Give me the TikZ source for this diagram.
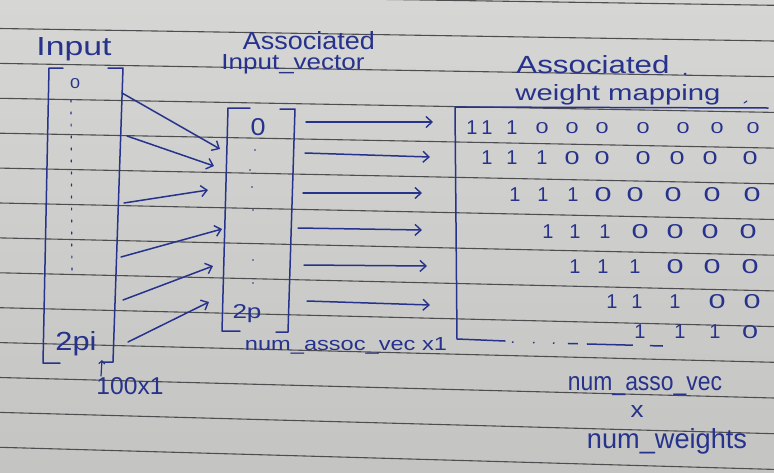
\documentclass[tikz,border=0pt]{standalone}
\usepackage{fontspec}
\setmainfont{Liberation Sans}
\usetikzlibrary{arrows.meta}
\definecolor{ink}{RGB}{38,50,140}
\definecolor{paper}{RGB}{196,197,195}
\definecolor{paperlight}{RGB}{214,214,212}
\definecolor{rulegray}{RGB}{78,78,80}
% text fitted to a given width and height
\newcommand\hw[3]{\resizebox{#1pt}{#2pt}{#3}}
\newcommand\onedigit{\fontsize{20}{20}\selectfont 1}
\newcommand\zerodigit[2]{\resizebox{#1pt}{#2pt}{0}}
\newcommand\cell[3]{\ifnum#1=1 \onedigit\else\zerodigit{#2}{#3}\fi}
\begin{document}
\begin{tikzpicture}[x=1pt,y=-1pt,
  inkline/.style={draw=ink, line width=1.5pt, line cap=round, line join=round},
  penarrow/.style={inkline, -{Straight Barb[length=6pt,width=11pt,line width=1.4pt]}},
  hand/.style={text=ink, inner sep=0pt, anchor=base},
  digit/.style={text=ink, inner sep=0pt},
]
\useasboundingbox (0,0) rectangle (774,472);
% ruled notebook paper
\shade[top color=paperlight, bottom color=paper] (0,0) rectangle (774,472);
\foreach \n in {-1,...,12}
  \draw[rulegray, line width=1.1pt] (0,{28.5+34.9*\n}) -- (774,{41+35.7*\n});

% ---------- input column ----------
\node[hand] (inlabel) at (74,55) {\hw{75}{18}{Input}};
\draw[inkline] (63,68) -- (49,68) -- (43,363) -- (60,363);
\draw[inkline] (108,68) -- (123,68) -- (113,362) -- (102,362);
\node[digit] (infirst) at (75,84) {\zerodigit{10}{10}};
\draw[inkline, line width=1.2pt, dash pattern=on 2pt off 10pt] (71,100) -- (72,277);
\node[hand] (inlast) at (76,350) {\hw{41}{19}{2pi}};
\node[hand] (insize) at (130,394) {\hw{67}{17}{100x1}};
\coordinate (sizefoot) at (101,376);
\coordinate (sizetip) at (102,360);
\draw[inkline, line width=1.2pt, -{Straight Barb[length=3pt,width=6pt]}] (sizefoot) -- (sizetip);

% ---------- input to associated vector ----------
\foreach \i/\sx/\sy/\ex/\ey in {1/122/93/220/149, 2/127/136/214/166, 3/124/203/208/190,
                                4/121/257/222/229, 5/123/300/213/266, 6/128/342/209/302} {
  \coordinate (ia\i) at (\sx,\sy);
  \coordinate (ib\i) at (\ex,\ey);
  \draw[penarrow] (ia\i) -- (ib\i);
}

% ---------- associated input vector ----------
\node[hand] (avlabel1) at (309,49) {\hw{132}{18}{Associated}};
\node[hand] (avlabel2) at (293,69) {\hw{143}{15}{Input\_vector}};
\draw[inkline] (250,108) -- (228,108) -- (222,331) -- (240,331);
\draw[inkline] (280,109) -- (295,109) -- (288,332) -- (276,332);
\node[digit] (avfirst) at (258,127) {\zerodigit{15}{17}};
\foreach \x/\y in {255/150, 250/170, 252/187, 253/210, 253/260, 253/283}
  \fill[ink] (\x,\y) circle (0.9pt);
\node[hand] (avlast) at (247,318) {\hw{29}{14}{2p}};
\node[hand] (avsize) at (346,350) {\hw{202}{13}{num\_assoc\_vec x1}};

% ---------- associated vector to weight mapping ----------
\foreach \i/\sx/\sy/\ex/\ey in {1/306/122/433/122, 2/305/153/430/157, 3/303/193/422/193,
                                4/298/228/422/230, 5/304/265/427/266, 6/307/301/430/305} {
  \coordinate (va\i) at (\sx,\sy);
  \coordinate (vb\i) at (\ex,\ey);
  \draw[penarrow] (va\i) -- (vb\i);
}

% ---------- associated weight mapping ----------
\node[hand] (wmlabel1) at (593,73) {\hw{153}{18}{Associated}};
\fill[ink] (685,74) circle (1.5pt);
\node[hand] (wmlabel2) at (618,100) {\hw{205}{16}{weight mapping}};
\draw[inkline] (768,108) -- (455,107) -- (457,339) -- (505,341);
\draw[inkline, line cap=butt, dash pattern=on 1.5pt off 19.5pt on 1.5pt off 18.5pt on 1.5pt off 13.5pt
      on 10pt off 9pt on 46pt off 17pt on 13pt off 20pt] (512,342) -- (663,346);
\draw[inkline, line width=1pt] (744,103) -- (747,101);

\foreach \r/\y/\zw/\zh/\cells in {
  1/128/13/11/{472/1,487/1,512/1,542/0,572/0,602/0,643/0,683/0,717/0,753/0},
  2/158/15/13/{487/1,512/1,542/1,572/0,602/0,643/0,677/0,710/0,750/0},
  3/195/17/14/{515/1,543/1,573/1,603/0,635/0,673/0,712/0,752/0},
  4/232/17/14/{548/1,575/1,605/1,640/0,675/0,710/0,748/0},
  5/267/17/14/{575/1,603/1,635/1,675/0,712/0,750/0},
  6/302/17/14/{612/1,637/1,675/1,717/0,752/0},
  7/332/16/13/{640/1,680/1,715/1,750/0}} {
  \foreach [count=\c] \x/\d in \cells
    \node[digit] (w\r-\c) at (\x,\y) {\cell{\d}{\zw}{\zh}};
}

\node[hand] (wmsize1) at (645,390) {\hw{154}{14}{num\_asso\_vec}};
\node[hand] (wmsize2) at (637,417) {\hw{13}{12}{x}};
\node[hand] (wmsize3) at (667,448) {\hw{160}{20}{num\_weights}};
\end{tikzpicture}
\end{document}
